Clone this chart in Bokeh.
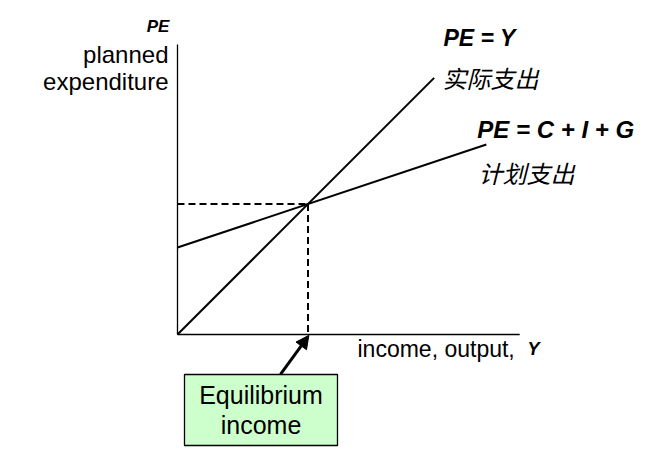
from bokeh.plotting import figure
from bokeh.models import Range1d, Arrow, NormalHead, Label
from bokeh.embed import file_html
from bokeh.resources import INLINE

# ---- model values (income Y, planned expenditure PE) ----
axis_income_max = 11.8
axis_pe_max = 10.0

actual_income = [0.0, 8.85]      # PE = Y  (45-degree line)
actual_pe = [0.0, 8.85]

planned_income = [0.0, 10.65]    # PE = C + I + G
planned_pe = [3.0, 6.55]

equilibrium_income = 4.5
equilibrium_pe = 4.5

# ---- figure ----
p = figure(width=639, height=451, output_backend="svg", toolbar_location=None,
           x_range=Range1d(-6.1034, 15.931), y_range=Range1d(-4.0345, 11.5172),
           x_axis_type=None, y_axis_type=None, min_border=0,
           outline_line_color=None, background_fill_color="white")
p.grid.visible = False

# axes
p.line([0, 0], [0, axis_pe_max], line_color="black", line_width=1.3)
p.line([0, axis_income_max], [0, 0], line_color="black", line_width=1.3)

# curves
p.line(actual_income, actual_pe, line_color="black", line_width=2)
p.line(planned_income, planned_pe, line_color="black", line_width=2)

# equilibrium dashed guides
p.line([0, equilibrium_income], [equilibrium_pe, equilibrium_pe],
       line_color="black", line_width=2, line_dash="7 4")
p.line([equilibrium_income, equilibrium_income], [equilibrium_pe, 0],
       line_color="black", line_width=2, line_dash="7 4")

# equilibrium box
box_left, box_right, box_top, box_bottom = 0.241, 5.517, -1.379, -3.828
p.quad(left=[box_left], right=[box_right], top=[box_top], bottom=[box_bottom],
       fill_color="#ccffcc", line_color="black", line_width=1.3)

p.add_layout(Arrow(end=NormalHead(size=13, fill_color="black", line_color="black"),
                   x_start=3.55, y_start=box_top, x_end=equilibrium_income + 0.03, y_end=-0.03,
                   line_color="black", line_width=3))

FONT = "Liberation Sans"
CJK = "Noto Sans CJK SC"

def lab(x, y, text, size, style="normal", font=FONT, align="left", baseline="alphabetic"):
    p.add_layout(Label(x=x, y=y, text=text, text_font=font, text_font_size=size,
                       text_font_style=style, text_align=align, text_baseline=baseline,
                       text_color="black"))

lab(-0.28, 10.62, "PE", "17px", "bold italic", align="right")
lab(-0.31, 9.65, "planned", "24px", align="right")
lab(-0.31, 8.72, "expenditure", "24px", align="right")

lab(9.17, 10.24, "PE = Y", "23px", "bold italic")
lab(9.14, 8.86, "实际支出", "24px", "italic", font=CJK, baseline="middle")
lab(10.34, 7.07, "PE = C + I + G", "24px", "bold italic")
lab(10.38, 5.60, "计划支出", "24px", "italic", font=CJK, baseline="middle")

lab(6.207, -0.483, "income, output,", "23px")
lab(12.07, -0.483, "Y", "18px", "bold italic")

lab(2.879, -2.069, "Equilibrium", "25px", align="center")
lab(2.879, -3.109, "income", "25px", align="center")

open("out.html", "w").write(file_html(p, INLINE))
